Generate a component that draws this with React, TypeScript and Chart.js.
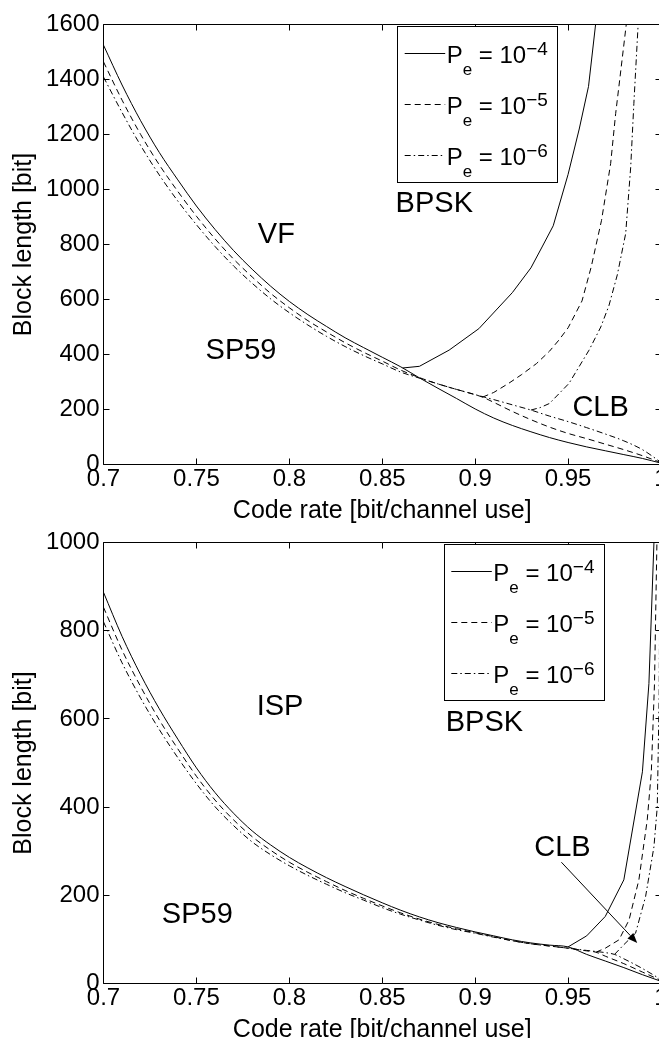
import React, { useEffect, useRef } from 'react';
import { Chart, registerables } from 'chart.js';

Chart.register(...registerables);

const FONT = '"Liberation Sans", Arial, Helvetica, sans-serif';

// ---------- shared axes ----------
const rateGrid = [0.70, 0.71, 0.72, 0.73, 0.74, 0.75, 0.76, 0.77, 0.78, 0.79, 0.80, 0.81, 0.82, 0.83, 0.84, 0.85, 0.86, 0.87, 0.88, 0.89, 0.90, 0.91, 0.92, 0.93, 0.94, 0.95, 0.96, 0.97, 0.98, 0.99, 1.00];
const xTickValues = [0.7, 0.75, 0.8, 0.85, 0.9, 0.95, 1.0];
const xTickLabels = ['0.7', '0.75', '0.8', '0.85', '0.9', '0.95', '1'];
const topYTicks = [0, 200, 400, 600, 800, 1000, 1200, 1400, 1600];
const bottomYTicks = [0, 200, 400, 600, 800, 1000];
const xTitle = 'Code rate [bit/channel use]';
const yTitle = 'Block length [bit]';

// ---------- legend ----------
const legendExponents = ['\u22124', '\u22125', '\u22126'];
const SOLID: number[] = [];
const DASHED = [6, 4];
const DASHDOT = [6, 3, 1.5, 3];
const legendDashes = [SOLID, DASHED, DASHDOT];

// ---------- top panel (VF / BPSK / CLB) ----------
const topSolidSP = [1525, 1380, 1250, 1135, 1035, 940, 855, 778, 710, 648, 593, 545, 502, 461, 425, 390, 355, 315, 277, 240, 202, 169, 142, 119, 98, 80, 64, 50, 36, 22, 5];
const topDashedRate = [0.70, 0.71, 0.72, 0.73, 0.74, 0.75, 0.76, 0.77, 0.78, 0.79, 0.80, 0.81, 0.82, 0.83, 0.84, 0.85, 0.86, 0.87, 0.88, 0.89, 0.90, 0.904, 0.91, 0.92, 0.93, 0.94, 0.95, 0.96, 0.97, 0.98, 0.99, 1.00];
const topDashedSP = [1464, 1325, 1200, 1090, 993, 903, 821, 747, 682, 622, 570, 523, 482, 443, 408, 376, 343, 316, 293, 273, 254, 245, 226, 193, 163, 136, 113, 94, 74, 54, 32, 7];
const topDashDotSP = [1409, 1280, 1160, 1053, 958, 872, 793, 722, 659, 602, 552, 507, 466, 429, 396, 366, 336, 314, 293, 273, 254, 236, 217, 198, 176, 156, 134, 111, 86, 54, 8];
const topSolidBpskRate = [0.861, 0.87, 0.886, 0.902, 0.92, 0.93, 0.936, 0.942, 0.95, 0.956, 0.961, 0.9648];
const topSolidBpsk = [351, 357, 416, 494, 625, 715, 791, 868, 1055, 1220, 1375, 1600];
const topDashedBpskRate = [0.904, 0.91, 0.918, 0.925, 0.933, 0.94, 0.945, 0.95, 0.954, 0.9575, 0.9625, 0.968, 0.9729, 0.9756, 0.9785, 0.9813];
const topDashedBpsk = [245, 262, 295, 327, 367, 412, 452, 497, 549, 595, 720, 888, 1094, 1276, 1440, 1600];
const topDashDotBpskRate = [0.93, 0.935, 0.94, 0.9505, 0.9613, 0.9676, 0.972, 0.9765, 0.981, 0.9837, 0.9854, 0.9877];
const topDashDotBpsk = [198, 207, 222, 295, 416, 500, 578, 690, 840, 1082, 1313, 1600];
const topNoteText = ['VF', 'SP59', 'BPSK', 'CLB'];
const topNoteRate = [0.793, 0.774, 0.878, 0.9675];
const topNoteLength = [834, 413, 949, 204];

// ---------- bottom panel (ISP / BPSK / CLB) ----------
const bottomSolidSP = [887, 787, 700, 623, 554, 489, 433, 386, 346, 314, 286, 262, 240, 220, 201, 183, 166, 151, 138, 127, 117, 108, 99, 92, 87, 83, 66, 51, 36, 20, 5];
const bottomDashedRate = [0.70, 0.71, 0.72, 0.73, 0.74, 0.75, 0.76, 0.77, 0.78, 0.79, 0.80, 0.81, 0.82, 0.83, 0.84, 0.85, 0.86, 0.87, 0.88, 0.89, 0.90, 0.91, 0.92, 0.93, 0.94, 0.95, 0.96, 0.965, 0.97, 0.98, 0.99, 1.00];
const bottomDashedSP = [853, 756, 673, 598, 532, 470, 416, 371, 333, 302, 275, 252, 231, 211, 193, 176, 160, 146, 134, 124, 115, 106, 97, 90, 85, 80, 74, 71, 62, 45, 26, 7];
const bottomDashDotRate = [0.70, 0.71, 0.72, 0.73, 0.74, 0.75, 0.76, 0.77, 0.78, 0.79, 0.80, 0.81, 0.82, 0.83, 0.84, 0.85, 0.86, 0.87, 0.88, 0.89, 0.90, 0.91, 0.92, 0.93, 0.94, 0.95, 0.96, 0.97, 0.975, 0.98, 0.99, 1.00];
const bottomDashDotSP = [820, 727, 647, 576, 512, 453, 401, 358, 321, 292, 267, 245, 225, 206, 189, 172, 157, 144, 132, 122, 114, 105, 97, 90, 85, 80, 75, 70, 66, 56, 34, 9];
const bottomSolidBpskRate = [0.95, 0.96, 0.97, 0.98, 0.99, 0.9935, 0.9962];
const bottomSolidBpsk = [83, 108, 152, 235, 480, 680, 1000];
const bottomDashedBpskRate = [0.965, 0.97, 0.9774, 0.9828, 0.9881, 0.9926, 0.9948, 0.9965, 0.9978];
const bottomDashedBpsk = [71, 80, 99, 144, 235, 371, 480, 680, 1000];
const bottomDashDotBpskRate = [0.975, 0.98, 0.9863, 0.9917, 0.9962, 0.998, 0.999, 0.9995];
const bottomDashDotBpsk = [66, 88, 114, 197, 310, 401, 650, 1000];
const bottomNoteText = ['ISP', 'SP59', 'BPSK', 'CLB'];
const bottomNoteRate = [0.795, 0.7505, 0.905, 0.947];
const bottomNoteLength = [626, 156, 590, 307];
const clbArrowRate = [0.9464, 0.9872];
const clbArrowLength = [275, 92];

type Series = { x: number[]; y: number[]; dash: number[]; smooth: boolean };

type PanelProps = {
  top: number;
  series: Series[];
  yTicks: number[];
  noteText: string[];
  noteX: number[];
  noteY: number[];
  arrowX?: number[];
  arrowY?: number[];
  legendDx: number;
  axisHeight: number;
  titlePad: number;
};

const CANVAS_W = 662;
const CANVAS_H = 530;

function crisp(v: number) {
  return Math.floor(v) + 0.5;
}

function drawLegend(ctx: CanvasRenderingContext2D, left: number, top: number) {
  const w = 160;
  const h = 156;
  ctx.setLineDash([]);
  ctx.fillStyle = '#fff';
  ctx.fillRect(left, top, w, h);
  ctx.strokeStyle = '#000';
  ctx.lineWidth = 1;
  ctx.strokeRect(crisp(left), crisp(top), w, h);
  legendExponents.forEach((exp, i) => {
    const ly = crisp(top + 26.6 + i * 51);
    ctx.setLineDash(legendDashes[i]);
    ctx.beginPath();
    ctx.moveTo(left + 7, ly);
    ctx.lineTo(left + 47.5, ly);
    ctx.stroke();
    ctx.setLineDash([]);
    const base = top + 36.6 + i * 51;
    ctx.fillStyle = '#000';
    ctx.textBaseline = 'alphabetic';
    ctx.textAlign = 'left';
    let x = left + 49;
    ctx.font = `24px ${FONT}`;
    ctx.fillText('P', x, base);
    x += ctx.measureText('P').width;
    ctx.font = `17px ${FONT}`;
    ctx.fillText('e', x, base + 11.7);
    x += ctx.measureText('e').width;
    ctx.font = `24px ${FONT}`;
    ctx.fillText(' = 10', x, base);
    x += ctx.measureText(' = 10').width;
    ctx.font = `19px ${FONT}`;
    ctx.fillText(exp, x, base - 8.3);
  });
}

function makeOverlay(p: PanelProps) {
  return {
    id: 'overlay',
    afterDatasetsDraw(chart: any) {
      const { ctx, chartArea: a } = chart;
      const xs = chart.scales.x;
      const ys = chart.scales.y;
      ctx.save();
      ctx.setLineDash([]);
      ctx.strokeStyle = '#000';
      ctx.lineWidth = 1;
      // box
      const l = crisp(a.left), r = crisp(a.right), t = crisp(a.top), b = crisp(a.bottom);
      ctx.beginPath();
      ctx.rect(l, t, r - l, b - t);
      ctx.stroke();
      // inward tick marks on all four sides
      const L = 6;
      ctx.beginPath();
      xs.ticks.forEach((tk: any) => {
        const px = crisp(xs.getPixelForValue(tk.value));
        ctx.moveTo(px, b); ctx.lineTo(px, b - L);
        ctx.moveTo(px, t); ctx.lineTo(px, t + L);
      });
      ys.ticks.forEach((tk: any) => {
        const py = crisp(ys.getPixelForValue(tk.value));
        ctx.moveTo(l, py); ctx.lineTo(l + L, py);
        ctx.moveTo(r, py); ctx.lineTo(r - L, py);
      });
      ctx.stroke();
      // text annotations
      ctx.fillStyle = '#000';
      ctx.font = `29px ${FONT}`;
      ctx.textAlign = 'center';
      ctx.textBaseline = 'middle';
      p.noteText.forEach((txt, i) => {
        ctx.fillText(txt, xs.getPixelForValue(p.noteX[i]), ys.getPixelForValue(p.noteY[i]));
      });
      // arrow
      if (p.arrowX && p.arrowY) {
        const x1 = xs.getPixelForValue(p.arrowX[0]);
        const y1 = ys.getPixelForValue(p.arrowY[0]);
        const x2 = xs.getPixelForValue(p.arrowX[1]);
        const y2 = ys.getPixelForValue(p.arrowY[1]);
        const ang = Math.atan2(y2 - y1, x2 - x1);
        const hl = 10, hw = 4;
        const bx = x2 - hl * Math.cos(ang);
        const by = y2 - hl * Math.sin(ang);
        ctx.beginPath();
        ctx.moveTo(x1, y1);
        ctx.lineTo(bx, by);
        ctx.stroke();
        ctx.beginPath();
        ctx.moveTo(x2, y2);
        ctx.lineTo(bx + hw * Math.sin(ang), by - hw * Math.cos(ang));
        ctx.lineTo(bx - hw * Math.sin(ang), by + hw * Math.cos(ang));
        ctx.closePath();
        ctx.fill();
      }
      // legend
      drawLegend(ctx, a.left + p.legendDx, a.top + 2.2);
      ctx.restore();
    },
  };
}

function Panel(p: PanelProps) {
  const ref = useRef<HTMLCanvasElement>(null);
  useEffect(() => {
    const canvas = ref.current;
    if (!canvas) return;
    const yMax = p.yTicks[p.yTicks.length - 1];
    const chart = new Chart(canvas, {
      type: 'line',
      data: {
        datasets: p.series.map((s) => ({
          data: s.x.map((x, i) => ({ x, y: s.y[i] })),
          borderColor: '#000',
          borderWidth: 1,
          borderDash: s.dash,
          borderCapStyle: 'butt',
          pointRadius: 0,
          fill: false,
          tension: 0,
          cubicInterpolationMode: s.smooth ? 'monotone' : 'default',
        })),
      } as any,
      options: {
        animation: false,
        responsive: false,
        maintainAspectRatio: false,
        events: [],
        layout: { padding: { left: 0, right: 1, top: 24.5, bottom: 0 } },
        plugins: { legend: { display: false }, tooltip: { enabled: false } },
        scales: {
          x: {
            type: 'linear',
            min: 0.7,
            max: 1.0,
            afterBuildTicks: (sc: any) => {
              sc.ticks = xTickValues.map((v) => ({ value: v }));
            },
            afterFit: (sc: any) => {
              sc.height = p.axisHeight;
              sc.paddingLeft = 0;
              sc.paddingRight = 0;
            },
            ticks: {
              autoSkip: false,
              maxRotation: 0,
              minRotation: 0,
              padding: 0,
              color: '#000',
              font: { family: FONT, size: 24 },
              callback: (_v: any, i: number) => xTickLabels[i],
            },
            grid: { display: false, drawTicks: false },
            border: { display: false },
            title: {
              display: true,
              text: xTitle,
              color: '#000',
              font: { family: FONT, size: 25 },
              padding: { top: 0, bottom: p.titlePad },
            },
          },
          y: {
            type: 'linear',
            min: 0,
            max: yMax,
            afterBuildTicks: (sc: any) => {
              sc.ticks = p.yTicks.map((v) => ({ value: v }));
            },
            afterFit: (sc: any) => {
              sc.width = 103.5;
              sc.paddingTop = 0;
              sc.paddingBottom = 0;
            },
            ticks: {
              autoSkip: false,
              padding: 4,
              color: '#000',
              font: { family: FONT, size: 24 },
              callback: (v: any) => String(v),
            },
            grid: { display: false, drawTicks: false },
            border: { display: false },
            title: {
              display: true,
              text: yTitle,
              color: '#000',
              font: { family: FONT, size: 25 },
              padding: { top: 9, bottom: 0 },
            },
          },
        },
      } as any,
      plugins: [makeOverlay(p)],
    });
    return () => chart.destroy();
  }, []);
  return (
    <canvas
      ref={ref}
      width={CANVAS_W}
      height={CANVAS_H}
      style={{ position: 'absolute', left: 0, top: p.top, width: CANVAS_W, height: CANVAS_H, display: 'block' }}
    />
  );
}

const topSeries: Series[] = [
  { x: rateGrid, y: topSolidSP, dash: SOLID, smooth: true },
  { x: topDashedRate, y: topDashedSP, dash: DASHED, smooth: true },
  { x: rateGrid, y: topDashDotSP, dash: DASHDOT, smooth: true },
  { x: topSolidBpskRate, y: topSolidBpsk, dash: SOLID, smooth: false },
  { x: topDashedBpskRate, y: topDashedBpsk, dash: DASHED, smooth: false },
  { x: topDashDotBpskRate, y: topDashDotBpsk, dash: DASHDOT, smooth: false },
];

const bottomSeries: Series[] = [
  { x: rateGrid, y: bottomSolidSP, dash: SOLID, smooth: true },
  { x: bottomDashedRate, y: bottomDashedSP, dash: DASHED, smooth: true },
  { x: bottomDashDotRate, y: bottomDashDotSP, dash: DASHDOT, smooth: true },
  { x: bottomSolidBpskRate, y: bottomSolidBpsk, dash: SOLID, smooth: false },
  { x: bottomDashedBpskRate, y: bottomDashedBpsk, dash: DASHED, smooth: false },
  { x: bottomDashDotBpskRate, y: bottomDashDotBpsk, dash: DASHDOT, smooth: false },
];

export default function App() {
  return (
    <div
      style={{
        position: 'absolute',
        left: 0,
        top: 0,
        width: 659,
        height: 1038,
        overflow: 'hidden',
        background: '#fff',
      }}
    >
      <Panel
        top={0}
        series={topSeries}
        yTicks={topYTicks}
        noteText={topNoteText}
        noteX={topNoteRate}
        noteY={topNoteLength}
        legendDx={294.2}
        axisHeight={65.5}
        titlePad={4}
      />
      <Panel
        top={518}
        series={bottomSeries}
        yTicks={bottomYTicks}
        noteText={bottomNoteText}
        noteX={bottomNoteRate}
        noteY={bottomNoteLength}
        arrowX={clbArrowRate}
        arrowY={clbArrowLength}
        legendDx={340.8}
        axisHeight={64.5}
        titlePad={3}
      />
    </div>
  );
}
